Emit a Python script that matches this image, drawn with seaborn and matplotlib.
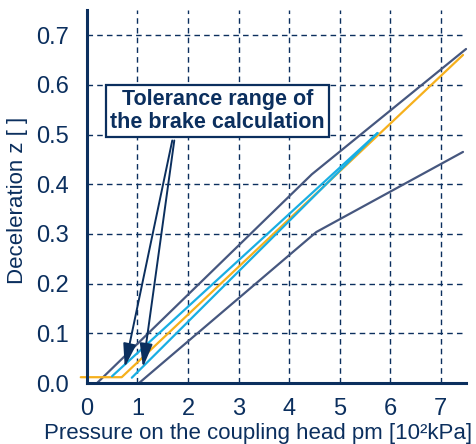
import numpy as np
import pandas as pd
import matplotlib
matplotlib.use('Agg')
import matplotlib.pyplot as plt
import seaborn as sns

# dados
upper_x = [0.20, 4.45, 7.50]
upper_y = [0.0, 0.42, 0.672]
lower_x = [1.03, 4.54, 7.44]
lower_y = [0.0, 0.304, 0.465]
orange_x = [-0.12, 0.69, 7.44]
orange_y = [0.012, 0.012, 0.660]
blue1_x = [0.50, 5.75]
blue1_y = [0.014, 0.503]
blue2_x = [0.89, 5.75]
blue2_y = [0.011, 0.503]

x_ticks = [0, 1, 2, 3, 4, 5, 6, 7]
y_ticks = [0.0, 0.1, 0.2, 0.3, 0.4, 0.5, 0.6, 0.7]

navy = '#0b2f5e'
slate = '#46577f'
orange = '#f6b01c'
blue = '#19aee3'

sns.set_style('white')
plt.rcParams['font.family'] = ['Liberation Sans', 'DejaVu Sans']

fig = plt.figure(figsize=(4.77, 4.44), dpi=100)
ax = fig.add_axes([0.182, 0.137, 0.795, 0.840])

def linha(xs, ys, cor, z):
    df = pd.DataFrame({'x': xs, 'y': ys})
    sns.lineplot(data=df, x='x', y='y', ax=ax, color=cor, lw=1.6,
                 sort=False, estimator=None, zorder=z, clip_on=False)

linha(upper_x, upper_y, slate, 3)
linha(lower_x, lower_y, slate, 3)
linha(orange_x, orange_y, orange, 3)
linha(blue1_x, blue1_y, blue, 4)
linha(blue2_x, blue2_y, blue, 4)

ax.set_xlim(0, 7.5)
ax.set_ylim(0, 0.75)
ax.set_xticks(x_ticks)
ax.set_yticks(y_ticks)
ax.set_yticklabels([f'{v:.1f}' for v in y_ticks])

for v in x_ticks[1:]:
    ax.axvline(v, color=navy, ls=(0, (4, 3)), lw=1.0, zorder=1)
for v in y_ticks[1:]:
    ax.axhline(v, color=navy, ls=(0, (4, 3)), lw=1.0, zorder=1)

for s in ['top', 'right']:
    ax.spines[s].set_visible(False)
for s in ['left', 'bottom']:
    ax.spines[s].set_color(navy)
    ax.spines[s].set_linewidth(2.2)
    ax.spines[s].set_zorder(5)

ax.tick_params(axis='both', direction='out', length=7, width=1.3, color=navy,
               labelsize=17, labelcolor=navy)
ax.tick_params(axis='y', pad=6)
ax.tick_params(axis='x', pad=4)

ax.set_xlabel('Pressure on the coupling head pm [10²kPa]', fontsize=16, color=navy)
ax.set_ylabel('Deceleration z [ ]', fontsize=16, color=navy)
ax.xaxis.set_label_coords(0.452, -0.108)
ax.yaxis.set_label_coords(-0.155, 0.49)

ax.text(2.58, 0.547, 'Tolerance range of\nthe brake calculation', ha='center', va='center',
        fontsize=15.5, fontweight='bold', color=navy, linespacing=1.1, zorder=6,
        bbox=dict(boxstyle='square,pad=0.2', fc='white', ec=navy, lw=1.6))

seta = dict(arrowstyle='-|>,head_length=1.1,head_width=0.3', color=navy, lw=1.4,
            shrinkA=0, shrinkB=0, mutation_scale=13)
ax.annotate('', xy=(0.75, 0.032), xytext=(1.69, 0.488), arrowprops=seta, zorder=6)
ax.annotate('', xy=(1.11, 0.032), xytext=(1.73, 0.488), arrowprops=seta, zorder=6)

plt.savefig('out.png', dpi=100)
